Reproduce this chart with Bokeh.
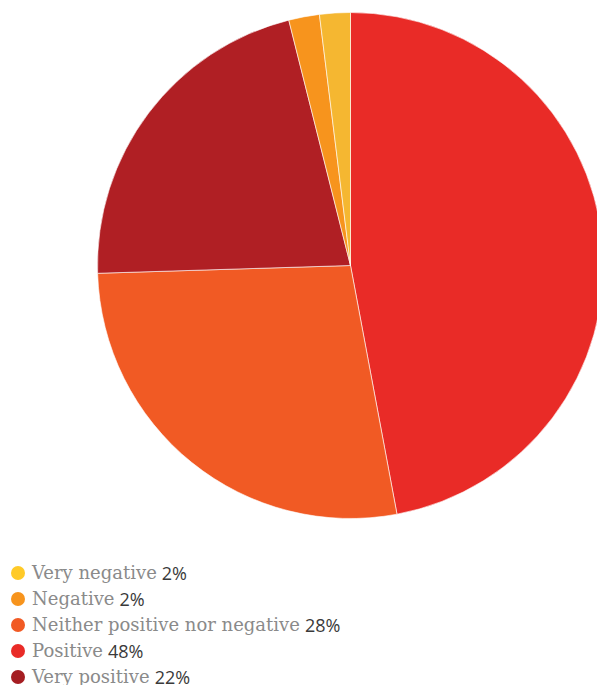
import math
from bokeh.plotting import figure
from bokeh.models import Range1d, ColumnDataSource, Div
from bokeh.layouts import column
from bokeh.embed import file_html
from bokeh.resources import INLINE

categories = ["Very negative", "Negative", "Neither positive nor negative", "Positive", "Very positive"]
values = [2, 2, 28, 48, 22]
labels = ["2%", "2%", "28%", "48%", "22%"]
colors = ["#F5B731", "#F7941D", "#F15A24", "#E92B27", "#B01F24"]
legend_colors = ["#FFCA28", "#F7941D", "#F15A24", "#E92B27", "#A51D22"]

# Clockwise drawing order from 12 o'clock
draw_order = [3, 2, 4, 1, 0]

W, H = 597, 560
p = figure(width=W, height=H, output_backend="svg", toolbar_location=None,
           x_range=Range1d(0, W), y_range=Range1d(0, H), min_border=0,
           outline_line_color=None)
p.axis.visible = False
p.grid.visible = False

total = sum(values)
cx, cy, r = 350, H - 265, 253
starts, ends, cols = [], [], []
cum = 0.0
for i in draw_order:
    a0 = cum / total * 2 * math.pi
    cum += values[i]
    a1 = cum / total * 2 * math.pi
    starts.append(math.pi / 2 - a1)
    ends.append(math.pi / 2 - a0)
    cols.append(colors[i])

src = ColumnDataSource(dict(x=[cx] * len(cols), y=[cy] * len(cols), s=starts, e=ends, c=cols))
p.wedge(x="x", y="y", radius=r, start_angle="s", end_angle="e", fill_color="c",
        line_color="white", line_width=0.6, source=src)

rows = []
for cat, lab, col in zip(categories, labels, legend_colors):
    rows.append(
        f'<div style="height:26px;line-height:26px;white-space:nowrap;display:flex;align-items:center;">'
        f'<span style="display:inline-block;width:14px;height:14px;border-radius:50%;background:{col};margin-left:11px;margin-right:7px;"></span>'
        f'<span style="font-family:\'DejaVu Serif\';font-size:18px;color:#8a8a8a;">{cat}</span>'
        f'<span style="font-family:\'Open Sans\';font-size:18px;color:#3a3a3a;margin-left:5px;">{lab}</span>'
        f'</div>'
    )
div = Div(text="".join(rows), width=W, height=130, margin=(0, 0, 0, 0))

layout = column(p, div, spacing=0)
open("out.html", "w").write(file_html(layout, INLINE))
